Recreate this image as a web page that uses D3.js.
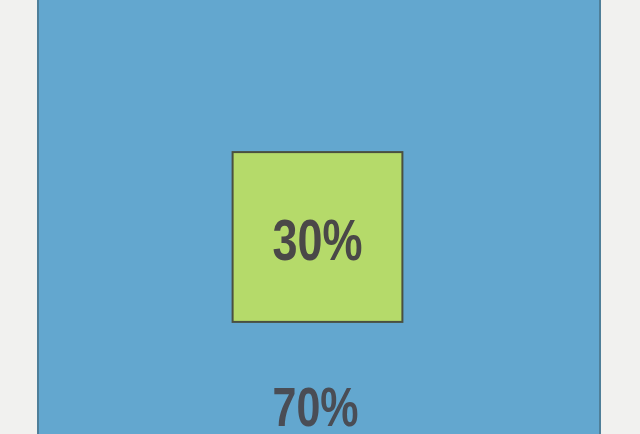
<!DOCTYPE html>
<html><head><meta charset="utf-8">
<script src="https://cdn.jsdelivr.net/npm/d3@7"></script>
<style>html,body{margin:0;padding:0;background:#f1f1ef;overflow:hidden}</style>
</head><body>
<script>
const categories = ["Rest", "Part"];
const values = [70, 30];
const labels = ["70%", "30%"];
const total = 100;

const W = 640, H = 434;
const svg = d3.select("body").append("svg").attr("width", W).attr("height", H);
svg.append("rect").attr("width", W).attr("height", H).attr("fill", "#f1f1ef");

const x = d3.scaleLinear().domain([0, total]).range([38, 600]);
const side = d3.scaleSqrt().domain([0, total]).range([0, 310]);

// whole (blue)
svg.append("rect")
  .attr("x", x(0)).attr("y", -10)
  .attr("width", x(total) - x(0)).attr("height", H + 20)
  .attr("fill", "#63a7cf").attr("stroke", "#4f7f99").attr("stroke-width", 2);

// part (green square)
const cx = (x(0) + x(total)) / 2 - 1.5, cy = 237;
const s = side(values[1]);
svg.append("rect")
  .attr("x", cx - s / 2).attr("y", cy - s / 2)
  .attr("width", s).attr("height", s)
  .attr("fill", "#b5da6a").attr("stroke", "#4a5040").attr("stroke-width", 2);

const font = "'Liberation Sans', Arial, sans-serif";
svg.append("text")
  .attr("x", cx).attr("y", 260)
  .attr("text-anchor", "middle")
  .attr("font-family", font).attr("font-weight", "bold").attr("font-size", 58)
  .attr("textLength", 90).attr("lengthAdjust", "spacingAndGlyphs")
  .attr("fill", "#4a4848").text(labels[1]);

svg.append("text")
  .attr("x", cx - 2).attr("y", 426)
  .attr("text-anchor", "middle")
  .attr("font-family", font).attr("font-weight", "bold").attr("font-size", 55)
  .attr("textLength", 86).attr("lengthAdjust", "spacingAndGlyphs")
  .attr("fill", "#4a4d55").text(labels[0]);
</script>
</body></html>
